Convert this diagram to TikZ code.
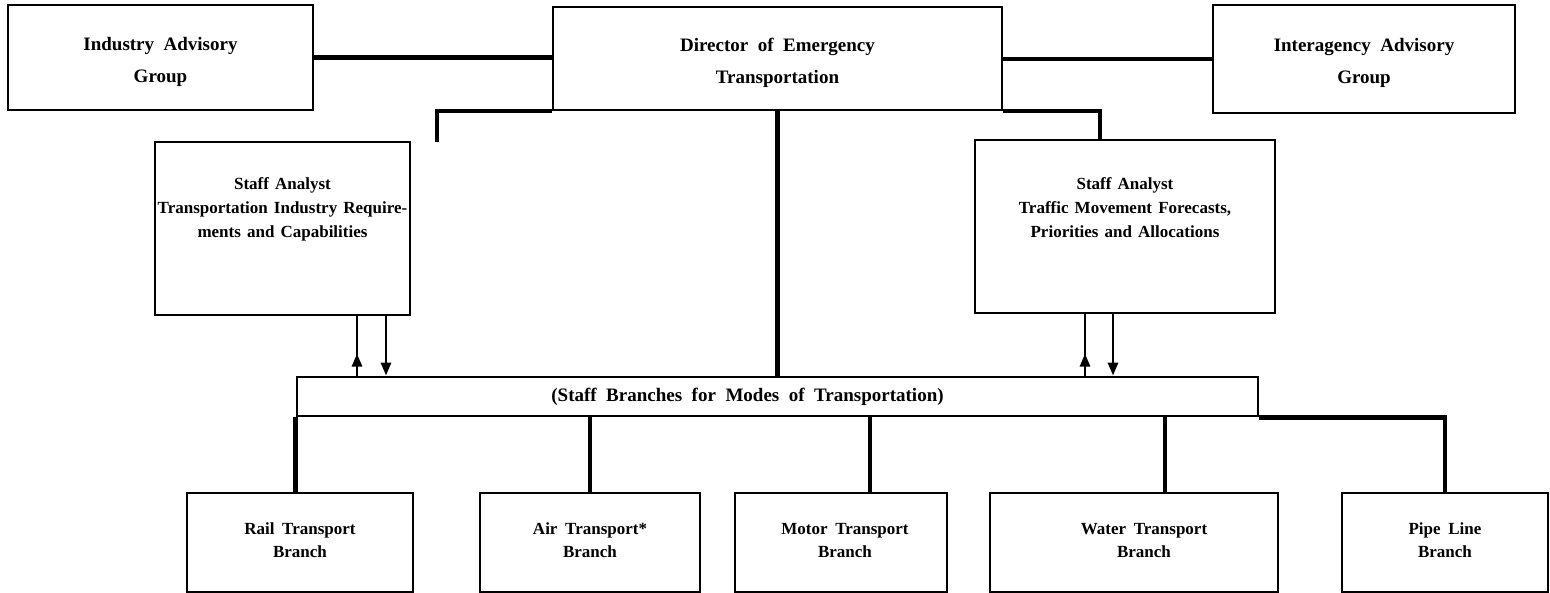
\documentclass[tikz,border=0pt]{standalone}
\usepackage{fontspec}
\setmainfont{Liberation Serif}
\usetikzlibrary{arrows.meta}
\begin{document}
\begin{tikzpicture}[x=1pt,y=-1pt,
  box/.style={draw, line width=2.5pt, inner sep=0pt},
  toptext/.style={inner sep=0pt, align=center,
    font={\bfseries\fontsize{19}{32}\selectfont\spaceskip=0.5em\relax}},
  midtext/.style={inner sep=0pt, align=center,
    font={\bfseries\fontsize{17}{24}\selectfont\spaceskip=0.36em\relax}},
  lowtext/.style={inner sep=0pt, align=center,
    font={\bfseries\fontsize{17}{23}\selectfont\spaceskip=0.45em\relax}},
  bartext/.style={inner sep=0pt,
    font={\bfseries\fontsize{19}{20}\selectfont\spaceskip=0.5em\relax}},
  link/.style={line width=4.4pt},
  flow/.style={line width=2.8pt},
  head/.style={line width=2.8pt, -{Triangle[length=13pt,width=10pt]}}]
\useasboundingbox (0,0) rectangle (1550,593);
\fill[white] (0,0) rectangle (1550,593);

% top row
\node[box, minimum width=305pt, minimum height=105pt] (ind) at (160.5,57.5) {};
\node[toptext] (indt) at ([yshift=-4pt]ind.center) {Industry Advisory\\Group};
\node[box, minimum width=449pt, minimum height=103pt] (dir) at (777.5,58.5) {};
\node[toptext] (dirt) at ([yshift=-4pt]dir.center) {Director of Emergency\\Transportation};
\node[box, minimum width=302pt, minimum height=108pt] (ia) at (1364,59) {};
\node[toptext] (iat) at ([yshift=-4pt]ia.center) {Interagency Advisory\\Group};

% staff analysts
\node[box, minimum width=255pt, minimum height=173pt] (lsa) at (282.5,228.5) {};
\node[midtext] (lsat) at ([yshift=19pt]lsa.center)
  {Staff Analyst\\Transportation Industry Require-\\ments and Capabilities};
\node[box, minimum width=300pt, minimum height=173pt] (rsa) at (1125,226.5) {};
\node[midtext] (rsat) at ([yshift=19pt]rsa.center)
  {Staff Analyst\\Traffic Movement Forecasts,\\Priorities and Allocations};

% staff branch bar
\node[box, line width=2.8pt, minimum width=961pt, minimum height=39pt] (bar) at (777.5,396.5) {};
\node[bartext] (bart) at ([xshift=-30pt]bar.center)
  {(Staff Branches for Modes of Transportation)};

% branches
\node[box, minimum width=226pt, minimum height=99pt] (rail) at (300,542.5) {};
\node[lowtext] (railt) at ([yshift=2pt]rail.center) {Rail Transport\\Branch};
\node[box, minimum width=220pt, minimum height=99pt] (air) at (590,542.5) {};
\node[lowtext] (airt) at ([yshift=2pt]air.center) {Air Transport*\\Branch};
\node[box, minimum width=212pt, minimum height=99pt] (motor) at (841,542.5) {};
\node[lowtext] (motort) at ([yshift=2pt, xshift=4pt]motor.center) {Motor Transport\\Branch};
\node[box, minimum width=288pt, minimum height=99pt] (water) at (1134,542.5) {};
\node[lowtext] (watert) at ([yshift=2pt, xshift=10pt]water.center) {Water Transport\\Branch};
\node[box, minimum width=206pt, minimum height=99pt] (pipe) at (1445,542.5) {};
\node[lowtext] (pipet) at ([yshift=2pt]pipe.center) {Pipe Line\\Branch};

% connector positions
\coordinate (ljoin) at (437,142);
\coordinate (rjoin) at (1100,140);
\coordinate (lup) at (357,0);
\coordinate (ldown) at (386,0);
\coordinate (rup) at (1085,0);
\coordinate (rdown) at (1113,0);
\coordinate (motorx) at (870,0);
\coordinate (waterx) at (1165,0);

% director links
\draw[link] (ind.east) -- (ind.east -| dir.west);
\draw[link] (ia.west -| dir.east) -- (ia.west);
\draw[link] (dir.south west) -| (ljoin);
\draw[link] (dir.south east) -| (rjoin);
\draw[link] (dir.south) -- (bar.north);

% reporting arrows between analysts and the bar
\draw[flow] (bar.north -| lup) -- (lsa.south -| lup);
\draw[head] (bar.north -| lup) -- ++(0,-22);
\draw[head] (lsa.south -| ldown) -- (bar.north -| ldown);
\draw[flow] (bar.north -| rup) -- (rsa.south -| rup);
\draw[head] (bar.north -| rup) -- ++(0,-22);
\draw[head] (rsa.south -| rdown) -- (bar.north -| rdown);

% branch links
\draw[link] (bar.south west) -- (bar.south west |- rail.north);
\draw[link] (air.north |- bar.south) -- (air.north);
\draw[link] (bar.south -| motorx) -- (motor.north -| motorx);
\draw[link] (bar.south -| waterx) -- (water.north -| waterx);
\draw[link] (bar.south east) -| (pipe.north);
\end{tikzpicture}
\end{document}
